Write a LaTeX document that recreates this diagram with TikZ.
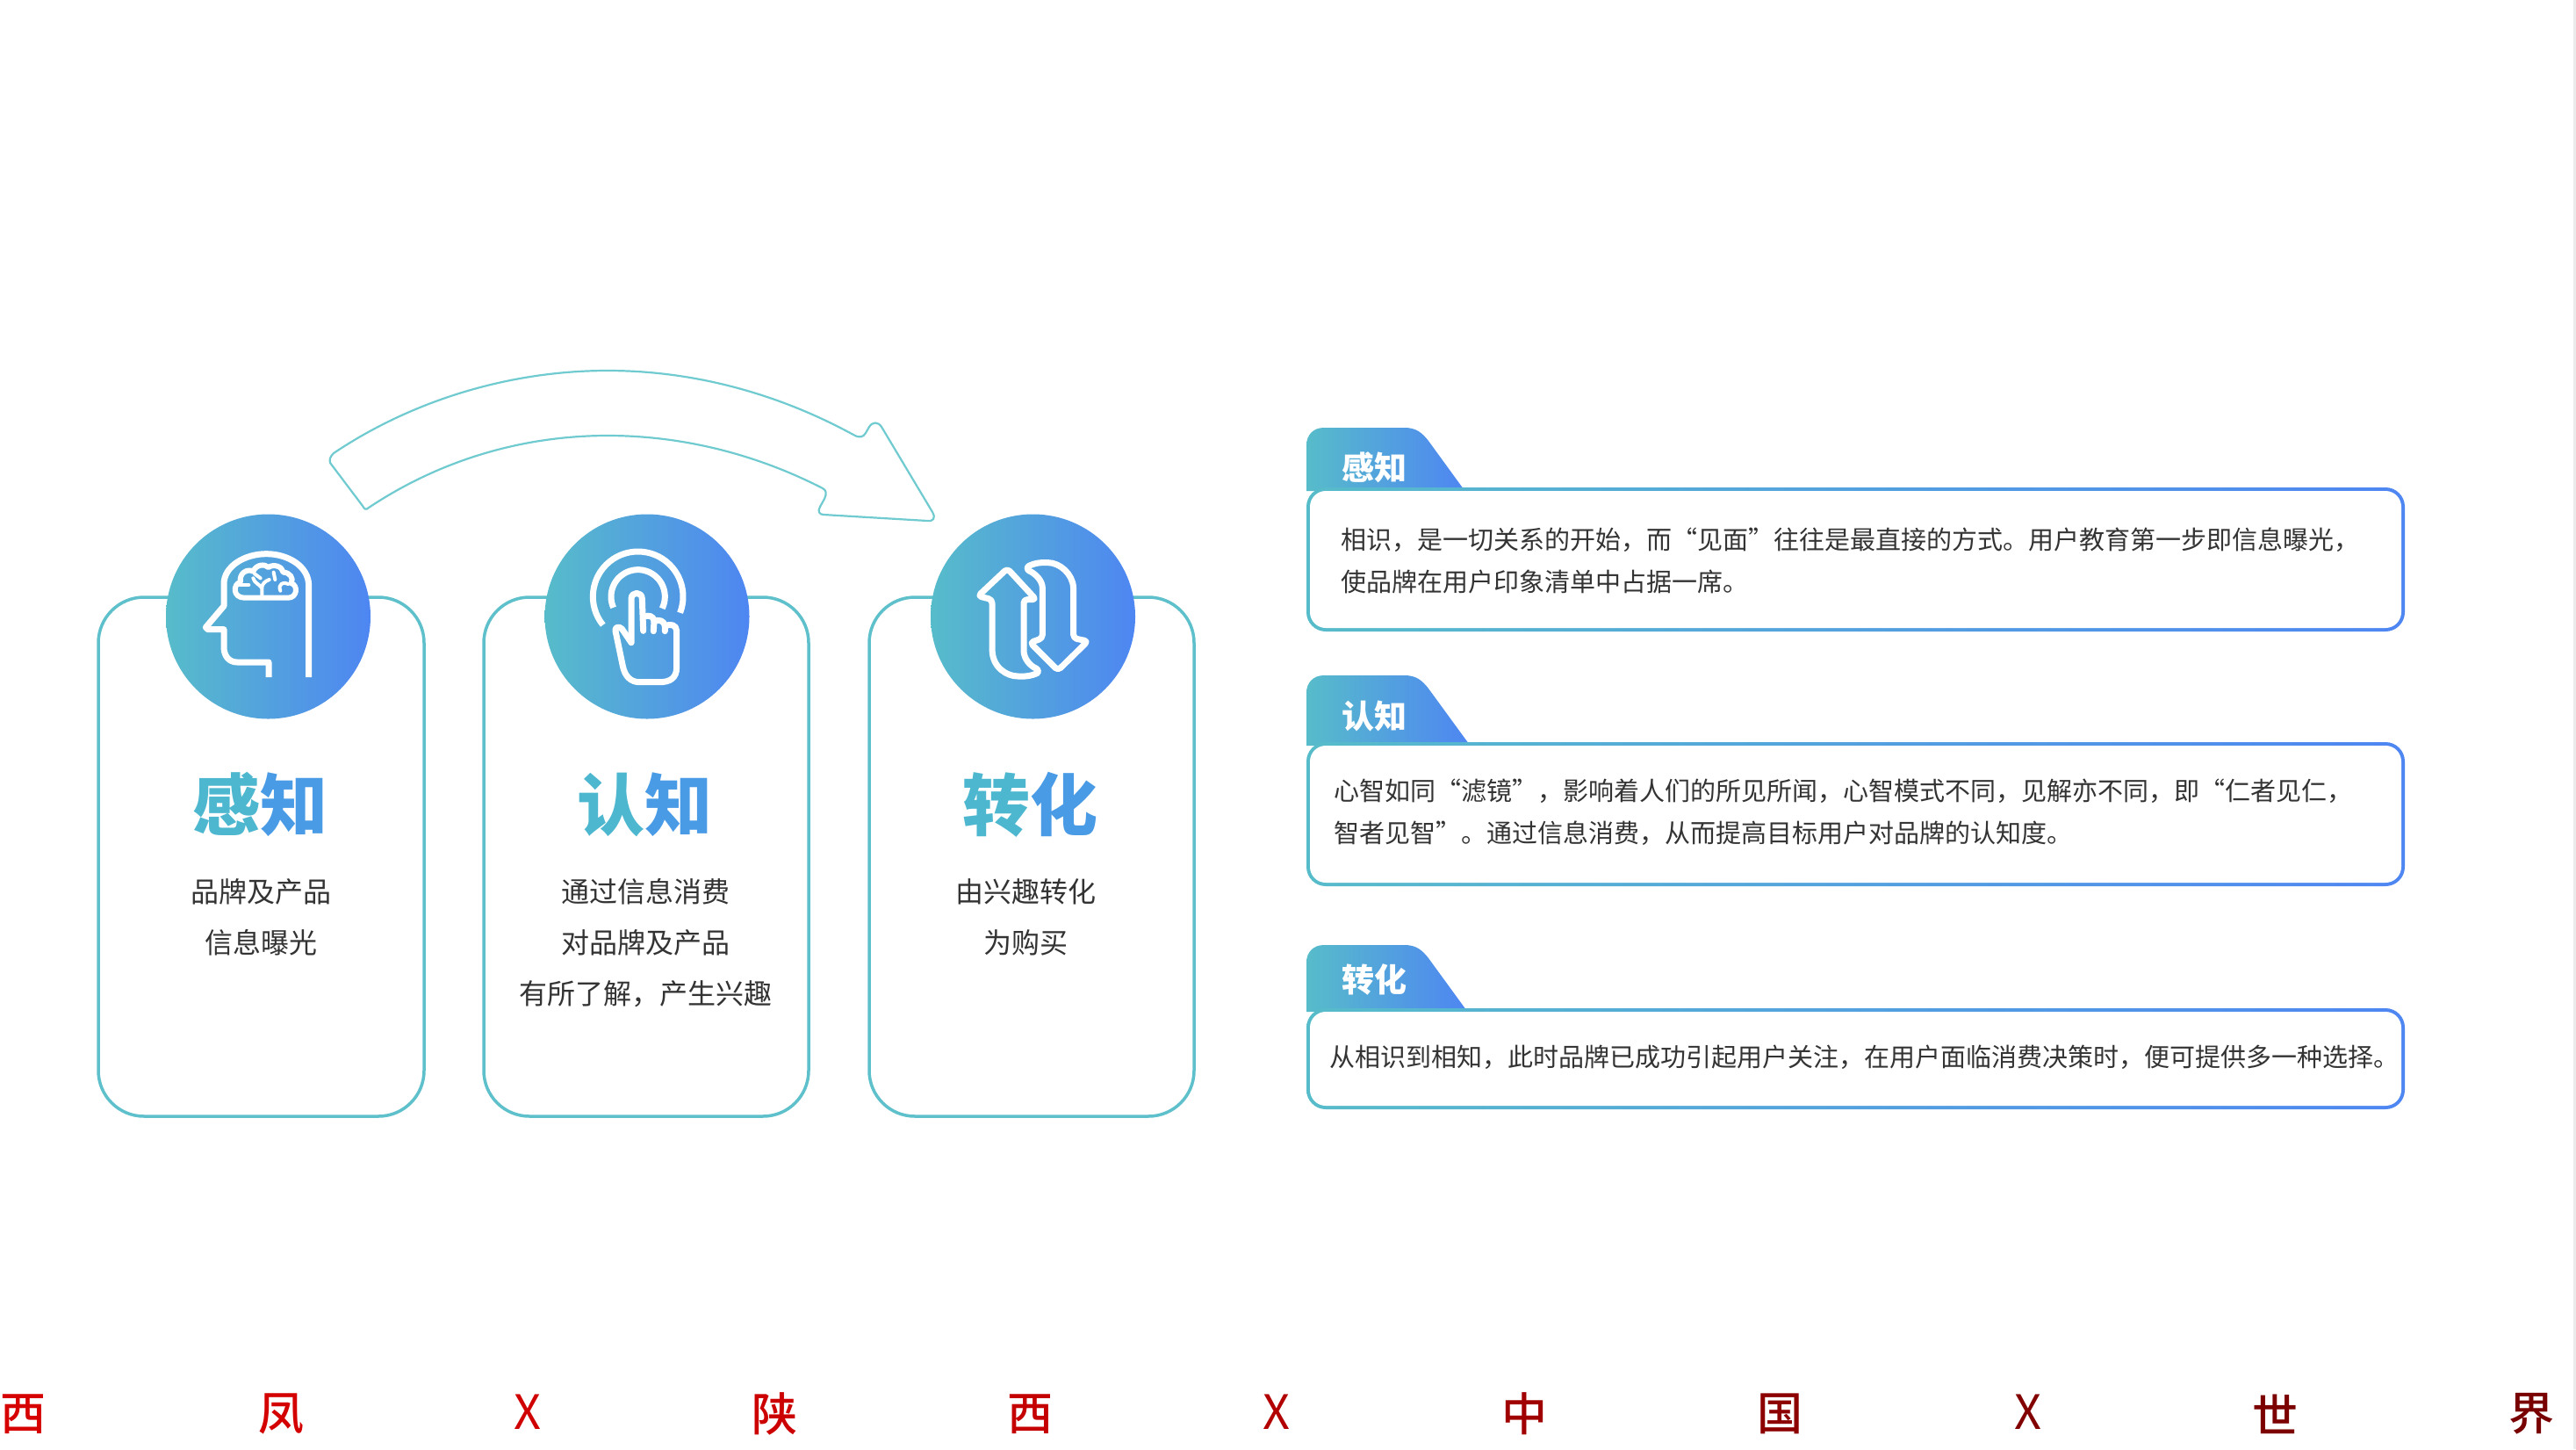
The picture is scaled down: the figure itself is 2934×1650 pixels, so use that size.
\documentclass[tikz,border=0pt]{standalone}
\usepackage{fontspec}
\setmainfont{Noto Sans CJK SC}
\newfontfamily\cjkbold{Noto Sans CJK SC Black}
\newfontfamily\cjkmedium{Noto Sans CJK SC Medium}
\def\fc{^^^^ff0c}
\definecolor{gradL}{HTML}{57BCCA}
\definecolor{gradR}{HTML}{4E86F2}
\definecolor{cardline}{HTML}{5EC0CB}
\definecolor{arrowline}{HTML}{70CBD0}
\definecolor{ink}{HTML}{333333}
\definecolor{tA}{HTML}{4DB7D0}
\definecolor{tB}{HTML}{4A9BE6}
\tikzset{
  cardbox/.style={draw=cardline,line width=3.5pt,rounded corners=52pt,fill=white},
  badge/.style={circle,minimum size=233pt,inner sep=0pt,left color=gradL,right color=gradR},
  grad/.style={left color=gradL,right color=gradR},
  title/.style={font=\cjkbold\fontsize{77}{77}\selectfont,inner sep=0pt},
  subtext/.style={font=\fontsize{32}{58}\selectfont,text=ink,align=center,inner sep=0pt},
  desc/.style={font=\fontsize{29}{48}\selectfont,text=ink,align=left,anchor=west,inner sep=0pt},
  tabtext/.style={font=\cjkbold\fontsize{37}{37}\selectfont,text=white,inner sep=0pt},
  banner/.style={font=\cjkmedium\fontsize{52}{52}\selectfont,inner sep=0pt},
  bannerx/.style={font=\fontsize{54}{54}\selectfont,inner sep=0pt},
  iconline/.style={draw=white,line width=7pt,line join=round},
  brainline/.style={draw=white,line width=4pt,line join=round,line cap=round},
}
% #1 tab top, #2 box top, #3 box bottom, #4 tab bottom right x
\newcommand{\panelbox}[4]{%
  \path[grad] (1488,#2+4) -- (1488,#1+20) .. controls (1488,#1+8) and (1496,#1) .. (1508,#1)
    -- (1600,#1) .. controls (1613,#1) and (1620,#1+6) .. (1627,#1+15) -- (#4,#2+2) -- (#4,#2+4) -- cycle;
  \path[grad,rounded corners=22pt] (1488,#2) rectangle (2739,#3);
  \fill[white,rounded corners=18pt] (1492,#2+4) rectangle (2735,#3-4);
}
\begin{document}
\begin{tikzpicture}[x=1pt,y=1pt,yscale=-1]
\useasboundingbox (0,0) rectangle (2934,1650);
\fill[white] (0,0) rectangle (2934,1650);
\fill[black!8] (2931,0) rectangle (2934,1650);

% curved arrow
\draw[arrowline,line width=2.2pt,line join=round]
  (380,516) .. controls (471,455) and (582,422) .. (692,422)
  .. controls (790,422) and (886,448) .. (972,495)
  .. controls (979,499) and (983,498) .. (986,493) -- (990,486)
  .. controls (994,480) and (1000,480) .. (1004,486) -- (1062,583)
  .. controls (1066,590) and (1063,594) .. (1056,593) -- (938,586)
  .. controls (933,586) and (931,582) .. (934,577) -- (939,568)
  .. controls (942,562) and (941,558) .. (937,556)
  .. controls (861,517) and (777,496) .. (692,496)
  .. controls (595,496) and (501,524) .. (420,578)
  .. controls (417,581) and (415,580) .. (413,576) -- (376,527)
  .. controls (375,523) and (376,520) .. cycle;

% cards
\draw[cardbox] (112,680) rectangle (483,1271);
\draw[cardbox] (551,680) rectangle (921,1271);
\draw[cardbox] (990,680) rectangle (1360,1271);

% badges
\node[badge] (c1) at (305.5,702) {};
\node[badge] (c2) at (737,702) {};
\node[badge] (c3) at (1176.5,702) {};

% head + brain icon
\begin{scope}[shift={(190,590)},scale=1/3]
\draw[iconline] (348,543) -- (348,492) -- (240,492) .. controls (212,492) and (195,470) .. (195,440) -- (195,380)
  -- (140,380) -- (133,373) -- (195,300) -- (195,225)
  .. controls (195,165) and (265,122) .. (340,122) .. controls (415,122) and (485,165) .. (485,230) -- (485,543);
\draw[brainline,line width=6pt] (265,272) .. controls (225,272) and (225,225) .. (252,218)
  .. controls (245,190) and (275,170) .. (295,182)
  .. controls (305,158) and (335,155) .. (347,168)
  .. controls (365,155) and (395,165) .. (398,185)
  .. controls (420,185) and (435,205) .. (425,222)
  .. controls (450,230) and (445,272) .. (415,272) -- cycle;
\draw[brainline] (325,268) -- (325,235) .. controls (327,225) and (335,215) .. (350,210);
\draw[brainline] (325,238) .. controls (315,225) and (300,222) .. (295,205);
\draw[brainline] (300,190) -- (320,205);
\draw[brainline] (250,228) -- (280,228);
\draw[brainline] (388,248) .. controls (378,225) and (400,215) .. (415,225);
\draw[brainline] (365,185) -- (370,210);
\end{scope}

% touch icon
\begin{scope}[shift={(620,590)},scale=1/3]
\draw[iconline] (320,268) ++(141:154) arc[start angle=141,end angle=381,radius=154];
\draw[iconline] (320,268) ++(156:92) arc[start angle=156,end angle=386,radius=92];
\draw[iconline,line cap=round] (297,425) -- (297,275) .. controls (297,250) and (334,250) .. (334,275) -- (338,385);
\draw[iconline,line cap=round] (338,338) .. controls (355,328) and (375,335) .. (375,352) -- (373,386);
\draw[iconline,line cap=round] (375,352) .. controls (390,345) and (410,350) .. (412,368) -- (412,386);
\draw[iconline,line cap=round] (412,370) .. controls (430,358) and (452,365) .. (452,385) -- (452,510)
  .. controls (452,545) and (430,560) .. (395,560) -- (325,560)
  .. controls (295,560) and (275,540) .. (268,505) -- (243,385)
  .. controls (240,372) and (255,368) .. (265,378) -- (297,425);
\end{scope}

% swap icon
\begin{scope}[shift={(1060,590)},scale=1/3]
\draw[iconline,rounded corners=4pt] (262,172) -- (162,266) -- (210,278) -- (210,440)
  .. controls (212,510) and (260,540) .. (310,540)
  .. controls (340,540) and (365,530) .. (372,518)
  .. controls (340,505) and (318,480) .. (318,440) -- (318,278) -- (360,278) -- cycle;
\draw[iconline,rounded corners=4pt] (435,520) -- (537,420) -- (488,410) -- (488,250)
  .. controls (486,190) and (440,152) .. (390,152)
  .. controls (360,152) and (335,162) .. (325,175)
  .. controls (360,190) and (382,215) .. (382,250) -- (382,410) -- (340,425) -- cycle;
\end{scope}

% card texts
\node[title] (t1) at (296,916) {\textcolor{tA}{感}\textcolor{tB}{知}};
\node[title] (t2) at (734,916) {\textcolor{tA}{认}\textcolor{tB}{知}};
\node[title] (t3) at (1173,916) {\textcolor{tA}{转}\textcolor{tB}{化}};
\node[subtext] (s1) at (297,1044.5) {品牌及产品\\信息曝光};
\node[subtext] (s2) at (735,1074) {通过信息消费\\对品牌及产品\\有所了解\fc 产生兴趣};
\node[subtext] (s3) at (1168,1044.5) {由兴趣转化\\为购买};

% right panels
\panelbox{487}{555}{719}{1667}
\panelbox{769}{845}{1009}{1673}
\panelbox{1076}{1148}{1263}{1670}
\node[tabtext] (h1) at (1565,532) {感知};
\node[tabtext] (h2) at (1565,815) {认知};
\node[tabtext] (h3) at (1565,1115) {转化};
\node[desc] (d1) at (1527,638) {相识\fc 是一切关系的开始\fc 而“见面”往往是最直接的方式。用户教育第一步即信息曝光\fc \\使品牌在用户印象清单中占据一席。};
\node[desc] (d2) at (1519,925) {心智如同“滤镜”\fc 影响着人们的所见所闻\fc 心智模式不同\fc 见解亦不同\fc 即“仁者见仁\fc \\智者见智”。通过信息消费\fc 从而提高目标用户对品牌的认知度。};
\node[desc] (d3) at (1514,1204) {从相识到相知\fc 此时品牌已成功引起用户关注\fc 在用户面临消费决策时\fc 便可提供多一种选择。};

% banner
\node[banner,text={rgb,255:red,214;green,0;blue,0}] (b1) at (27,1610) {西};
\node[banner,text={rgb,255:red,212;green,0;blue,0}] (b2) at (320,1610) {凤};
\node[bannerx,text={rgb,255:red,208;green,0;blue,0}] (b3) at (601,1608) {X};
\node[banner,text={rgb,255:red,204;green,0;blue,0}] (b4) at (882,1610) {陕};
\node[banner,text={rgb,255:red,196;green,0;blue,0}] (b5) at (1173,1610) {西};
\node[bannerx,text={rgb,255:red,178;green,0;blue,0}] (b6) at (1454,1608) {X};
\node[banner,text={rgb,255:red,160;green,0;blue,0}] (b7) at (1736,1610) {中};
\node[banner,text={rgb,255:red,140;green,0;blue,0}] (b8) at (2027,1610) {国};
\node[bannerx,text={rgb,255:red,130;green,0;blue,0}] (b9) at (2310,1608) {X};
\node[banner,text={rgb,255:red,124;green,0;blue,0}] (b10) at (2591,1610) {世};
\node[banner,text={rgb,255:red,120;green,0;blue,0}] (b11) at (2883,1610) {界};
\end{tikzpicture}
\end{document}
